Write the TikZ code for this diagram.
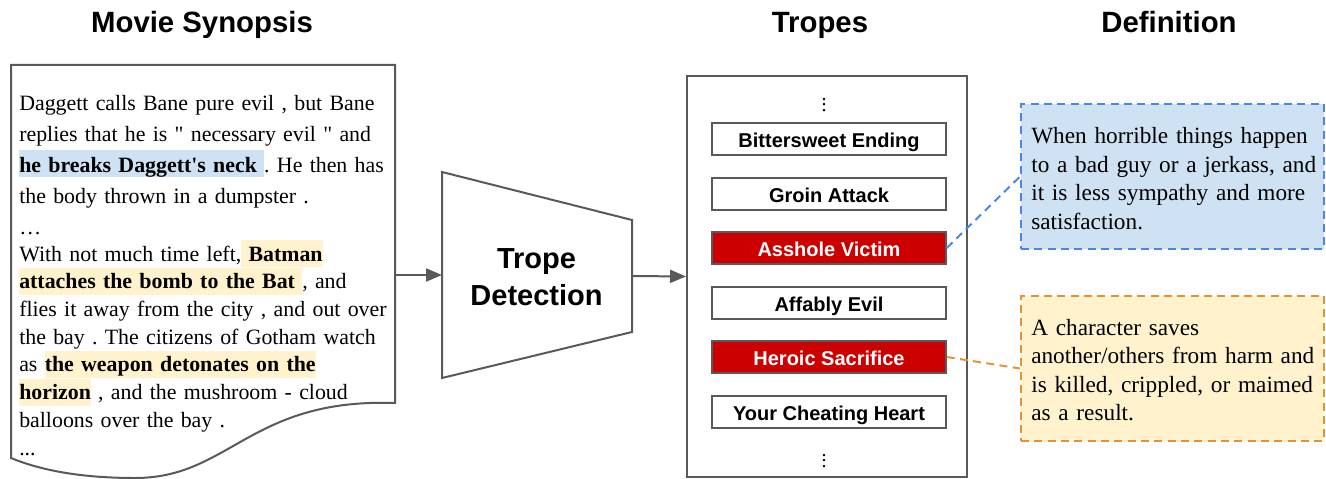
\documentclass[tikz,border=0pt]{standalone}
\usepackage{fontspec}
\setmainfont{Liberation Serif}
\setsansfont{Liberation Sans}
\usetikzlibrary{positioning,arrows.meta}

\definecolor{linegray}{HTML}{595959}
\definecolor{hlblue}{HTML}{CFE2F3}
\definecolor{hlyellow}{HTML}{FFF2CC}
\definecolor{tropered}{HTML}{CC0000}
\definecolor{dashblue}{HTML}{4A86E8}
\definecolor{dashorange}{HTML}{E69138}

% highlighted phrase, one for each line spacing
\newcommand{\hlA}[2]{{\setlength{\fboxsep}{0pt}\colorbox{#1}{\rule[-3.75pt]{0pt}{20.25pt}#2}}}
\newcommand{\hlB}[2]{{\setlength{\fboxsep}{0pt}\colorbox{#1}{\rule[-4.5pt]{0pt}{20pt}#2}}}
\frenchspacing

\tikzset{
    title/.style={font=\sffamily\bfseries\fontsize{22}{26}\selectfont, inner sep=0pt},
    frame/.style={draw=linegray, line width=1.5pt},
    synopsisA/.style={font=\fontsize{16.4}{23.25}\selectfont, text width=300pt, align=left, inner sep=0pt},
    synopsisB/.style={font=\fontsize{16.4}{20.8}\selectfont, text width=300pt, align=left, inner sep=0pt},
    tropebox/.style={draw=linegray, line width=1.1pt, fill=white, minimum width=175.5pt, minimum height=24pt,
        inner sep=0pt, text height=13pt, text depth=1pt, font=\sffamily\bfseries\fontsize{15}{18}\selectfont},
    hitbox/.style={tropebox, fill=tropered, text=white},
    moredots/.style={font=\boldmath\fontsize{15}{15}\selectfont, inner sep=0pt},
    defbox/.style={line width=1.5pt, dash pattern=on 6pt off 4pt, minimum width=227.25pt, minimum height=108.75pt},
    deftext/.style={font=\fontsize{17.45}{21.4}\selectfont, text width=300pt, align=left, inner sep=0pt},
    link/.style={line width=1.5pt, dash pattern=on 6pt off 4pt},
    flow/.style={draw=linegray, line width=1.5pt, -{Triangle[length=12pt,width=9.75pt]}}
}

\begin{document}
\begin{tikzpicture}[x=0.75pt,y=-0.75pt]
    \useasboundingbox (0,0) rectangle (1326,478);

    % headings
    \node[title, anchor=base] (synTitle) at (202,33) {Movie Synopsis};
    \node[title, anchor=base] (tropeTitle) at (820,33) {Tropes};
    \node[title, anchor=base] (defTitle) at (1169,33) {Definition};

    % synopsis page
    \draw[frame] (11,65) -- (395,65) -- (395,403)
        .. controls (250,398) and (230,478) .. (135,478)
        .. controls (80,478) and (40,470) .. (11,458) -- cycle;
    \node[synopsisA, anchor=base west] (synA) at (19,110) {Daggett calls Bane pure evil , but Bane\\
        replies that he is \textquotedbl{} necessary evil \textquotedbl{} and\\
        \hlA{hlblue}{\textbf{he breaks Daggett\textquotesingle s neck}\ }. He then has\\
        the body thrown in a dumpster .\\
        …};
    \node[synopsisB, anchor=base west] (synB) at (19,261) {With not much time left,\hlB{hlyellow}{\ \textbf{Batman}}\\
        \hlB{hlyellow}{\textbf{attaches the bomb to the Bat}\ }, and\\
        flies it away from the city , and out over\\
        the bay . The citizens of Gotham watch\\
        as \hlB{hlyellow}{\textbf{the weapon detonates on the}}\\
        \hlB{hlyellow}{\textbf{horizon}} , and the mushroom - cloud\\
        balloons over the bay .\\
        ...};

    % detector
    \coordinate (docOut) at (395,275);
    \coordinate (detIn) at (442,275);
    \coordinate (detOut) at (632,276);
    \draw[frame] (442,172) -- (632,220) -- (632,332) -- (442,378) -- cycle;
    \node[font=\sffamily\bfseries\fontsize{21.75}{27.75}\selectfont, text width=160pt, align=center,
        inner sep=0pt, anchor=base] (detect) at (536.5,268) {Trope\\ Detection};

    % trope list
    \node[frame, fill=white, minimum width=210pt, minimum height=300.75pt, inner sep=0pt] (tropes) at (827,276.5) {};
    \node[moredots] (dotsTop) at (824,101) {$\vdots$};
    \node[tropebox] (tBitter) at (829,139) {Bittersweet Ending};
    \node[tropebox] (tGroin) at (829,194) {Groin Attack};
    \node[hitbox] (tVictim) at (829,248) {Asshole Victim};
    \node[tropebox] (tAffably) at (829,303) {Affably Evil};
    \node[hitbox] (tSacrifice) at (829,357) {Heroic Sacrifice};
    \node[tropebox] (tCheating) at (829,412) {Your Cheating Heart};
    \node[moredots] (dotsBot) at (824,457) {$\vdots$};

    \draw[flow] (docOut) -- (detIn);
    \draw[flow] (detOut) -- (tropes.west);

    % definitions
    \node[defbox, draw=dashblue, fill=hlblue] (defVictim) at (1172.5,176.5) {};
    \node[deftext, anchor=base west] (defVictimText) at (1031,143.5) {When horrible things happen\\
        to a bad guy or a jerkass, and\\
        it is less sympathy and more\\
        satisfaction.};
    \node[defbox, draw=dashorange, fill=hlyellow] (defSacrifice) at (1172.5,368.5) {};
    \node[deftext, anchor=base west] (defSacrificeText) at (1031,335) {A character saves\\
        another/others from harm and\\
        is killed, crippled, or maimed\\
        as a result.};

    \draw[link, dashblue] (tVictim.east) -- (defVictim.west);
    \draw[link, dashorange] (tSacrifice.east) -- (defSacrifice.west);

\end{tikzpicture}
\end{document}
